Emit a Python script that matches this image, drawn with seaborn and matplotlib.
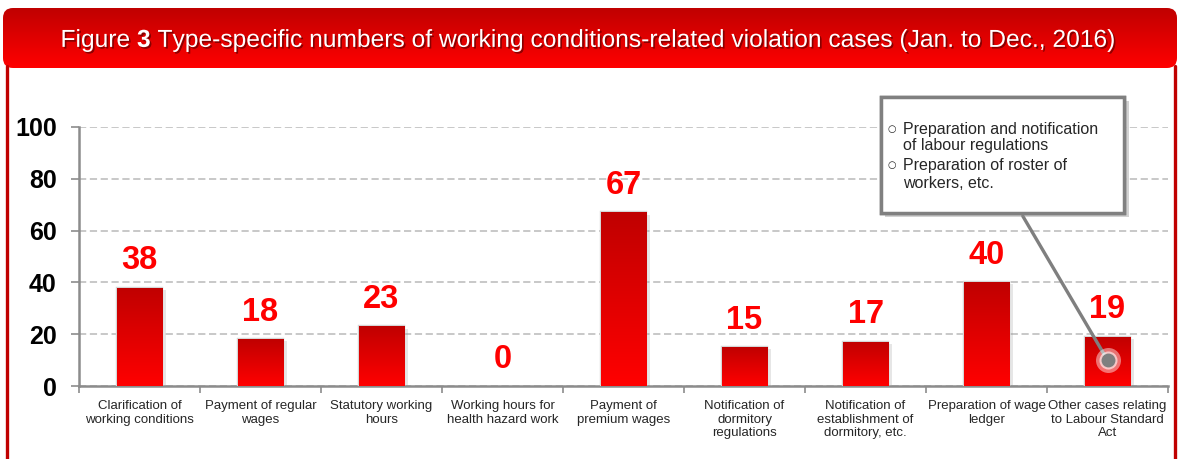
import numpy as np
import pandas as pd
import seaborn as sns
import matplotlib.pyplot as plt
import matplotlib.patheffects as pe
from matplotlib.colors import LinearSegmentedColormap
from matplotlib.patches import FancyBboxPatch, Rectangle

categories = [
    'Clarification of\nworking conditions',
    'Payment of regular\nwages',
    'Statutory working\nhours',
    'Working hours for\nhealth hazard work',
    'Payment of\npremium wages',
    'Notification of\ndormitory\nregulations',
    'Notification of\nestablishment of\ndormitory, etc.',
    'Preparation of wage\nledger',
    'Other cases relating\nto Labour Standard\nAct',
]
cases = [38, 18, 23, 0, 67, 15, 17, 40, 19]
yticks = [0, 20, 40, 60, 80, 100]
title = r'Figure $\mathbf{3}$ Type-specific numbers of working conditions-related violation cases (Jan. to Dec., 2016)'
note_lines = [
    ('○', 'Preparation and notification'),
    ('', 'of labour regulations'),
    ('○', 'Preparation of roster of'),
    ('', 'workers, etc.'),
]

sns.set_theme(style='white')
plt.rcParams['font.family'] = ['Liberation Sans', 'DejaVu Sans']
plt.rcParams['mathtext.fontset'] = 'custom'
plt.rcParams['mathtext.rm'] = 'Liberation Sans'
plt.rcParams['mathtext.bf'] = 'Liberation Sans:bold'

W, H = 1180, 459
fig = plt.figure(figsize=(W / 100, H / 100), dpi=100)
fig.patch.set_facecolor('white')

bar_cmap = LinearSegmentedColormap.from_list('redgrad', ['#FF0000', '#E00000', '#C00000'])

# header banner (axes in pixel units)
hx0, hy0, hw, hh = 3, 8, 1174, 60
hax = fig.add_axes([hx0 / W, 1 - (hy0 + hh) / H, hw / W, hh / H])
hax.set_xlim(0, hw)
hax.set_ylim(0, hh)
hax.axis('off')
banner = FancyBboxPatch((0, 0), hw, hh, boxstyle='round,pad=0,rounding_size=10',
                        facecolor='none', edgecolor='none')
hax.add_patch(banner)
grad = np.linspace(0, 1, 100).reshape(-1, 1)
img = hax.imshow(grad, extent=[0, hw, 0, hh], origin='lower', aspect='auto',
                 cmap=bar_cmap, interpolation='bicubic')
img.set_clip_path(banner)
hax.text(hw / 2 - 1, hh / 2 - 2, title, color='white', fontsize=17.7, ha='center', va='center',
         path_effects=[pe.withSimplePatchShadow(offset=(1.2, -1.2), shadow_rgbFace='#700000', alpha=0.8)])

# red side borders
for xp in (6.5, 1174.5):
    fig.add_artist(plt.Line2D([xp / W, xp / W], [0, 1 - 66 / H], transform=fig.transFigure,
                              color='#C00000', lw=2.4))

# main chart
ax = fig.add_axes([79 / W, 1 - 386 / H, (1168 - 79) / W, 259 / H])
df = pd.DataFrame({'category': categories, 'cases': cases})
sns.barplot(data=df, x='category', y='cases', color='#FF0000', width=0.38,
            edgecolor='#D6D6D6', linewidth=1.6, ax=ax, zorder=3)

for p in ax.patches:
    x0, y0 = p.get_x(), p.get_y()
    w, h = p.get_width(), p.get_height()
    if h <= 0:
        p.set_visible(False)
        continue
    p.set_path_effects([pe.withSimplePatchShadow(offset=(2.5, -1.5), shadow_rgbFace='#909090', alpha=0.22),
                        pe.Normal()])
    im = ax.imshow(grad, extent=[x0, x0 + w, y0, y0 + h], origin='lower', aspect='auto',
                   cmap=bar_cmap, interpolation='bicubic', zorder=3.5)
    im.set_clip_path(p)

ax.set_xlim(-0.5, len(categories) - 0.5)
ax.set_ylim(0, 100)
ax.set_xlabel('')
ax.set_ylabel('')
ax.set_yticks(yticks)
ax.set_yticklabels([str(t) for t in yticks], fontsize=18, fontweight='bold', color='black')
ax.set_xticks(range(len(categories)))
ax.set_xticklabels(categories, fontsize=9.5, color='#262626', linespacing=1.2)
ax.set_xticks(np.arange(-0.5, len(categories), 1), minor=True)
ax.tick_params(axis='x', which='major', length=0, pad=10)
ax.tick_params(axis='x', which='minor', length=5, width=1.2, color='#8C8C8C', direction='out', bottom=True)
ax.tick_params(axis='y', length=6, width=1.2, color='#8C8C8C', direction='out', left=True, pad=10)
ax.yaxis.grid(True, linestyle=(0, (4, 2)), color='#C4C4C4', lw=1.3)
ax.set_axisbelow(True)
for s in ('top', 'right'):
    ax.spines[s].set_visible(False)
for s in ('left', 'bottom'):
    ax.spines[s].set_color('#8C8C8C')
    ax.spines[s].set_linewidth(1.8)

for i, v in enumerate(cases):
    ax.annotate(str(v), (i, v), xytext=(0, 27), textcoords='offset pixels', ha='center', va='center',
                fontsize=23.5, fontweight='bold', color='#FF0000', zorder=5)

# callout
ax.plot([7.30, 8.0], [65.6, 10.0], color='#7F7F7F', lw=2.4, zorder=6, clip_on=False,
        solid_capstyle='round')
ax.plot([8.0], [10.0], 'o', ms=18, color='white', alpha=0.45, mew=0, zorder=6)
ax.plot([8.0], [10.0], 'o', ms=13, color='white', alpha=0.6, mew=0, zorder=6)
ax.plot([8.0], [10.0], 'o', ms=10, color='#7F7F7F', mew=0, zorder=7)
box = Rectangle((6.13, 66.8), 2.01, 44.8, facecolor='white', edgecolor='#808080', lw=2.5,
                clip_on=False, zorder=8,
                path_effects=[pe.withSimplePatchShadow(offset=(3, -3), shadow_rgbFace='#909090', alpha=0.4),
                              pe.Normal()])
ax.add_patch(box)
for (bullet, line), y in zip(note_lines, [99.2, 93.0, 85.3, 78.0]):
    if bullet:
        ax.text(6.185, y, bullet, fontsize=7, ha='left', va='center', color='#262626', zorder=9,
                family=['DejaVu Sans'])
    ax.text(6.31, y, line, fontsize=11.5, ha='left', va='center', color='#262626', zorder=9)

fig.savefig('out.png', dpi=100, facecolor='white')
